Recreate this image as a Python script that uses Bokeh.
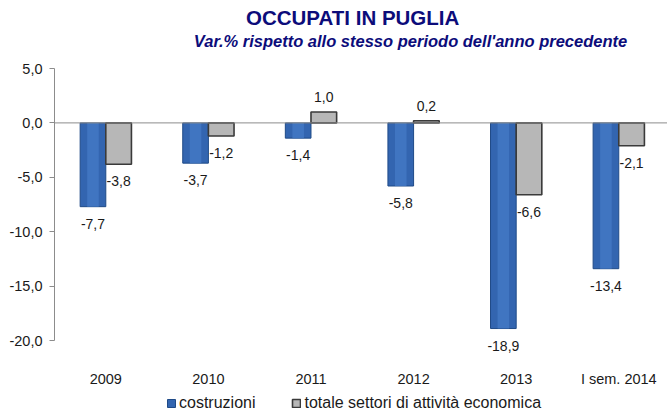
import numpy as np
from bokeh.plotting import figure
from bokeh.models import (ColumnDataSource, Range1d, FixedTicker, Span, Label,
                          LabelSet, Legend, LegendItem)
from bokeh.core.properties import value
from bokeh.embed import file_html
from bokeh.resources import INLINE

# ---- data ----
categories = ["2009", "2010", "2011", "2012", "2013", "I sem. 2014"]
costruzioni = [-7.7, -3.7, -1.4, -5.8, -18.9, -13.4]
totale = [-3.8, -1.2, 1.0, 0.2, -6.6, -2.1]
y_ticks = [-20, -15, -10, -5, 0, 5]
series_names = ["costruzioni", "totale settori di attività economica"]
title_text = "OCCUPATI  IN PUGLIA"
subtitle_text = "Var.% rispetto allo stesso periodo dell'anno precedente"

FONT = "Liberation Sans"
fmt = lambda v: f"{v:.1f}".replace(".", ",")

idx = np.arange(len(categories)) + 0.5
bw = 0.25

src_c = ColumnDataSource(dict(
    x=idx - bw / 2, top=costruzioni,
    text=[fmt(v) for v in costruzioni],
    yoff=[15 if v >= 0 else -17 for v in costruzioni]))
src_t = ColumnDataSource(dict(
    x=idx + bw / 2, top=totale,
    text=[fmt(v) for v in totale],
    yoff=[15 if v >= 0 else -17 for v in totale]))
src_cat = ColumnDataSource(dict(x=idx, y=[min(y_ticks)] * len(categories), text=categories))

W, H = 667, 416
LEFT = 54
AX_TOP, AX_BOT = 68, 340
# frame covers full canvas height; value axis spans AX_TOP..AX_BOT px
px_per_unit = (AX_BOT - AX_TOP) / (max(y_ticks) - min(y_ticks))
y_top = max(y_ticks) + AX_TOP / px_per_unit
y_bot = min(y_ticks) - (H - AX_BOT) / px_per_unit

p = figure(width=W, height=H, output_backend="svg", toolbar_location=None,
           x_range=Range1d(0, 5.975), y_range=Range1d(y_bot, y_top),
           min_border_left=LEFT, min_border_top=0, min_border_bottom=0,
           min_border_right=0)
p.outline_line_color = None
p.xgrid.visible = False
p.ygrid.visible = False
p.xaxis.visible = False
p.background_fill_color = "white"
p.border_fill_color = "white"

# zero line
p.add_layout(Span(location=0, dimension="width", line_color="#8c8c8c", line_width=1))

# bars
r_c = p.vbar(x="x", top="top", bottom=0, width=bw, source=src_c,
             fill_color="#3365b0", line_color="#1f4a87", line_width=1)
p.vbar(x="x", top="top", bottom=0, width=bw * 0.45, source=src_c,
       fill_color="#4479c6", line_color=None, fill_alpha=0.8)
r_t = p.vbar(x="x", top="top", bottom=0, width=bw, source=src_t,
             fill_color="#b7b7b7", line_color="#3a3a3a", line_width=1.6)

# value labels
for s in (src_c, src_t):
    p.add_layout(LabelSet(x="x", y="top", text="text", y_offset="yoff", source=s,
                          text_align="center", text_baseline="middle",
                          text_font=value(FONT), text_font_size="14px",
                          text_color="#1a1a1a"))

# category labels
p.add_layout(LabelSet(x="x", y="y", text="text", y_offset=-38, source=src_cat,
                      text_align="center", text_baseline="middle",
                      text_font=value(FONT), text_font_size="14.5px",
                      text_color="#1a1a1a"))

# y axis
yax = p.yaxis[0]
yax.ticker = FixedTicker(ticks=y_ticks)
yax.bounds = (min(y_ticks), max(y_ticks))
yax.major_label_overrides = {t: fmt(t) for t in y_ticks}
yax.minor_tick_line_color = None
yax.axis_line_color = "#8c8c8c"
yax.major_tick_line_color = "#8c8c8c"
yax.major_tick_out = 5
yax.major_tick_in = 0
yax.major_label_standoff = 7
yax.major_label_text_font = FONT
yax.major_label_text_font_size = "14.5px"
yax.major_label_text_color = "#1a1a1a"

# titles (screen units relative to frame bottom-left)
p.add_layout(Label(x=355 - LEFT, y=H - 17, x_units="screen", y_units="screen",
                   text=title_text, text_align="center", text_baseline="middle",
                   text_font=FONT, text_font_size="20.5px", text_font_style="bold",
                   text_color="#0c0c7a"))
p.add_layout(Label(x=410 - LEFT, y=H - 40, x_units="screen", y_units="screen",
                   text=subtitle_text, text_align="center", text_baseline="middle",
                   text_font=FONT, text_font_size="16.5px",
                   text_font_style="bold italic", text_color="#0c0c7a"))

# legend
legend = Legend(items=[LegendItem(label=series_names[0], renderers=[r_c]),
                       LegendItem(label=series_names[1], renderers=[r_t])],
                location=(166 - LEFT, 4), orientation="horizontal",
                padding=0, margin=0, spacing=36, glyph_width=10, glyph_height=10,
                label_height=14, label_standoff=3, label_text_font=FONT,
                label_text_font_size="16px", label_text_color="#1a1a1a",
                border_line_color=None, background_fill_alpha=0)
p.add_layout(legend, "center")

open("out.html", "w").write(file_html(p, INLINE))
